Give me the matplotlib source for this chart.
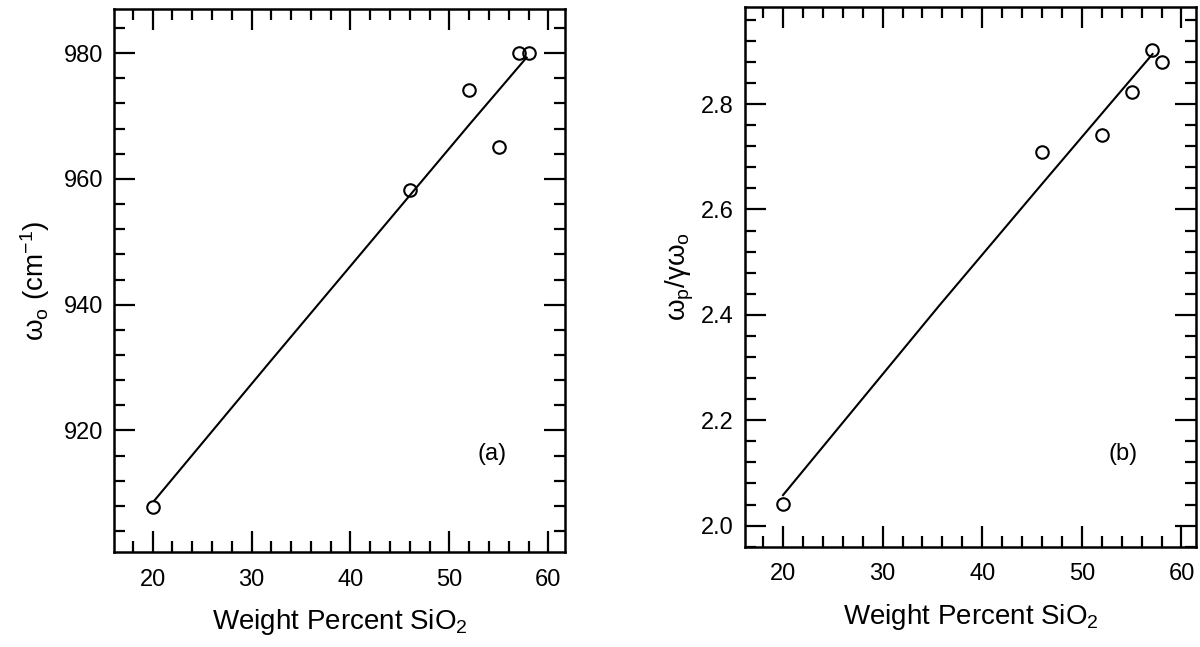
import matplotlib
matplotlib.use('Agg')
import matplotlib.pyplot as plt
from matplotlib.ticker import MultipleLocator

plt.rcParams['font.family'] = ['Liberation Sans', 'DejaVu Sans']
plt.rcParams['mathtext.default'] = 'regular'

# datos
sio2 = [20, 46, 52, 55, 57, 58]
omega_o = [907.9, 958.2, 974.2, 965.1, 980.0, 980.0]
ratio = [2.042, 2.709, 2.741, 2.822, 2.902, 2.880]

# lineas de ajuste
fit_a_x = [20.2, 31.8, 52.1, 57.8]
fit_a_y = [908.9, 930.8, 968.8, 979.3]
fit_b_x = [20.0, 35.7, 45.8, 52.5, 57.1]
fit_b_y = [2.058, 2.418, 2.644, 2.793, 2.895]

fig = plt.figure(figsize=(12, 6.47), dpi=100)
ax1 = fig.add_axes([0.095, 0.147, 0.376, 0.839])
ax2 = fig.add_axes([0.621, 0.155, 0.376, 0.834])


def estilo(ax, minor_y):
    ax.xaxis.set_major_locator(MultipleLocator(10))
    ax.xaxis.set_minor_locator(MultipleLocator(2))
    ax.yaxis.set_minor_locator(MultipleLocator(minor_y))
    ax.tick_params(which='both', direction='in', top=True, right=True, width=1.6, labelsize=17)
    ax.tick_params(which='major', length=15)
    ax.tick_params(which='minor', length=8)
    ax.tick_params(axis='x', pad=12)
    ax.tick_params(axis='y', pad=8)
    for s in ax.spines.values():
        s.set_linewidth(1.8)
    ax.set_xlabel('Weight Percent SiO$_2$', fontsize=20, labelpad=12)


ax1.plot(fit_a_x, fit_a_y, color='black', lw=1.5)
ax1.plot(sio2, omega_o, 'o', mfc='none', mec='black', ms=9, mew=1.5)
ax1.set_xlim(16.1, 61.7)
ax1.set_ylim(900.7, 987)
ax1.yaxis.set_major_locator(MultipleLocator(20))
estilo(ax1, 4)
ax1.set_ylabel('ω$_o$ (cm$^{-1}$)', fontsize=20, labelpad=8)
ax1.text(54.3, 916.3, '(a)', fontsize=17, ha='center', va='center')

ax2.plot(fit_b_x, fit_b_y, color='black', lw=1.5)
ax2.plot(sio2, ratio, 'o', mfc='none', mec='black', ms=9, mew=1.5)
ax2.set_xlim(16.2, 61.5)
ax2.set_ylim(1.960, 2.984)
ax2.yaxis.set_major_locator(MultipleLocator(0.2))
estilo(ax2, 0.04)
ax2.set_ylabel('ω$_p$/γω$_o$', fontsize=20, labelpad=4)
ax2.text(54.1, 2.136, '(b)', fontsize=17, ha='center', va='center')

plt.savefig('out.png', dpi=100)
